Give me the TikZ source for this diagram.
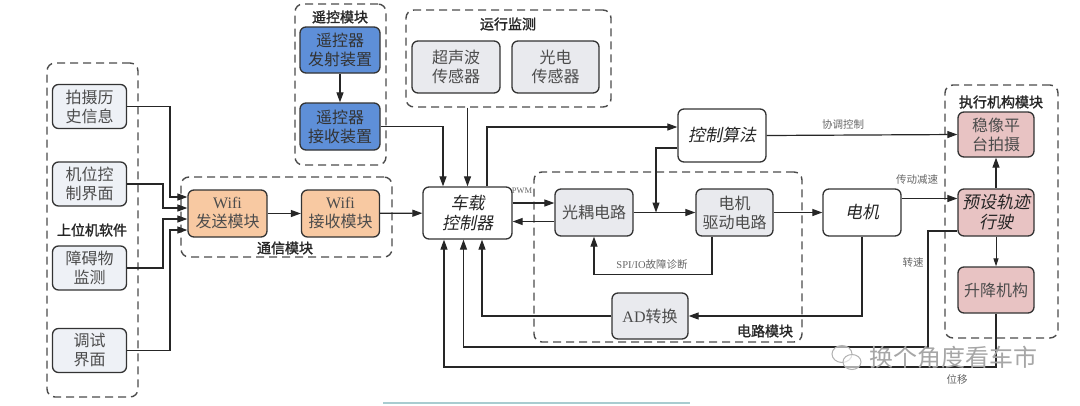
\documentclass[tikz,border=0pt]{standalone}
\usepackage{fontspec}
\setmainfont{Noto Sans CJK SC}
\newfontfamily\cjkit[FakeSlant=0.2]{Noto Sans CJK SC}
\newfontfamily\cjkbf[FakeBold=1.5]{Noto Sans CJK SC}
\newfontfamily\lat{Liberation Serif}
\usetikzlibrary{arrows.meta,calc}
\definecolor{cgray}{HTML}{E9EAEE}
\definecolor{cblue}{HTML}{EEF1F6}
\definecolor{corange}{HTML}{F8C9A2}
\definecolor{cdblue}{HTML}{5E8FD8}
\definecolor{cpink}{HTML}{E8C3C3}
\definecolor{cline}{HTML}{A9CCD0}
\tikzset{
  box/.style={draw=black!80, line width=1.3pt, rounded corners=6pt, inner sep=0pt, align=center,
    font=\fontsize{16}{19}\selectfont, text=black!70},
  itbox/.style={box, fill=white, font=\cjkit\fontsize{17}{20}\selectfont, text=black!85},
  grp/.style={draw=black!70, line width=1.4pt, dash pattern=on 8pt off 5pt, rounded corners=8pt, inner sep=0pt},
  arr/.style={-{Triangle[length=10pt,width=7pt]}, line width=1.2pt, draw=black!85},
  lbl/.style={font=\fontsize{10.5}{12}\selectfont, text=black!60, inner sep=1pt},
  glbl/.style={font=\cjkbf\fontsize{14}{16}\selectfont, text=black!85, inner sep=1pt}
}
\begin{document}
\begin{tikzpicture}[x=1pt,y=-1pt]
\useasboundingbox (0,0) rectangle (1080,405);
\fill[white] (0,0) rectangle (1080,405);

% group frames
\node[grp, minimum width=91, minimum height=334] (gleft) at (92.5,230) {};
\node[grp, minimum width=211, minimum height=80] (gcomm) at (286.5,217) {};
\node[grp, minimum width=91, minimum height=161] (grc) at (340.5,84.5) {};
\node[grp, minimum width=205, minimum height=97] (gmon) at (508.5,58.5) {};
\node[grp, minimum width=268, minimum height=170] (gcir) at (668,257) {};
\node[grp, minimum width=113, minimum height=253] (gexe) at (1001.5,211.5) {};

\node[glbl] (lleft) at (92,230) {上位机软件};
\node[glbl] (lcomm) at (285,248) {通信模块};
\node[glbl] (lrc) at (340,17) {遥控模块};
\node[glbl] (lmon) at (508,24) {运行监测};
\node[glbl] (lcir) at (765,331) {电路模块};
\node[glbl] (lexe) at (1001,102) {执行机构模块};

% left nodes
\node[box, fill=cblue, minimum width=74, minimum height=44] (n1) at (89.5,106.5) {拍摄历\\史信息};
\node[box, fill=cblue, minimum width=74, minimum height=44] (n2) at (89.5,184) {机位控\\制界面};
\node[box, fill=cblue, minimum width=74, minimum height=44] (n3) at (89.5,268) {障碍物\\监测};
\node[box, fill=cblue, minimum width=74, minimum height=44] (n4) at (89.5,350.5) {调试\\界面};

% wifi
\node[box, fill=corange, minimum width=79, minimum height=47] (w1) at (227.5,213.5) {{\lat Wifi}\\发送模块};
\node[box, fill=corange, minimum width=78, minimum height=47] (w2) at (340.5,213.5) {{\lat Wifi}\\接收模块};

% remote
\node[box, fill=cdblue, minimum width=80, minimum height=46, text=black!80] (rc1) at (340,50) {遥控器\\发射装置};
\node[box, fill=cdblue, minimum width=80, minimum height=47, text=black!80] (rc2) at (340,126.5) {遥控器\\接收装置};

% sensors
\node[box, fill=cgray, minimum width=88, minimum height=52] (s1) at (456,67) {超声波\\传感器};
\node[box, fill=cgray, minimum width=87, minimum height=52] (s2) at (555.5,67) {光电\\传感器};

% controller etc
\node[itbox, minimum width=89, minimum height=52] (ctrl) at (467.5,213) {车载\\控制器};
\node[itbox, minimum width=88, minimum height=53] (algo) at (722,135.5) {控制算法};
\node[box, fill=cgray, minimum width=78, minimum height=47] (opto) at (594,212.5) {光耦电路};
\node[box, fill=cgray, minimum width=77, minimum height=47] (drv) at (734.5,212.5) {电机\\驱动电路};
\node[box, fill=cgray, minimum width=76, minimum height=46] (ad) at (650,316) {{\lat AD}转换};
\node[itbox, minimum width=78, minimum height=47] (motor) at (862,212.5) {电机};

% actuators
\node[box, fill=cpink, minimum width=76, minimum height=45] (stab) at (996,134.5) {稳像平\\台拍摄};
\node[itbox, fill=cpink, minimum width=76, minimum height=47] (pre) at (996,212.5) {预设轨迹\\行驶};
\node[box, fill=cpink, minimum width=76, minimum height=46] (lift) at (996,290) {升降机构};

% left connectors
\draw[arr] (n1.east) -- (170,106.5) |- ($(w1.west)+(0,-16.5)$);
\draw[arr] (n2.east) -- (163,184) |- ($(w1.west)+(0,-5.5)$);
\draw[arr] (n3.east) -- (163,268) |- ($(w1.west)+(0,5.5)$);
\draw[arr] (n4.east) -- (170,350.5) |- ($(w1.west)+(0,16.5)$);
\draw[arr] (w1) -- (w2);
\draw[arr] (w2) -- (ctrl);

\draw[arr] (rc1) -- (rc2);
\draw[arr] (rc2.east) -| ($(ctrl.north)+(-24.5,0)$);
\draw[arr] (gmon.south -| ctrl.north) -- (ctrl.north);
\draw[arr] ($(ctrl.north)+(19.5,0)$) |- ($(algo.west)+(0,-8.5)$);
\draw[arr] (algo.east) -- (stab.west);
\node[lbl] (l1) at (843,125) {协调控制};

\draw[arr] ($(ctrl.east)+(0,-10)$) -- ($(opto.west)+(0,-9.5)$);
\draw[arr] ($(opto.west)+(0,9)$) -- ($(ctrl.east)+(0,8.5)$);
\node[lbl, font=\lat\fontsize{8.5}{10}\selectfont] (lpwm) at (522,191) {PWM};

\draw[arr] (opto) -- (drv);
\coordinate (j) at (656,212.5);
\draw[arr] ($(algo.west)+(0,12.5)$) -| (j);
\draw[arr] ($(drv.south)+(-22.5,0)$) -- ++(0,38) -| (opto.south);
\node[lbl] (lspi) at (652,265) {{\lat SPI/IO}故障诊断};

\draw[arr] (drv) -- (motor);
\draw[arr] ($(motor.east)+(0,-14)$) -- ($(pre.west)+(0,-14)$);
\node[lbl] (l2) at (917,180) {传动减速};
\draw[arr] (pre) -- (stab);
\draw[-{Triangle[length=8pt,width=5pt]}, line width=1pt, draw=black!85] (pre) -- (lift);

\draw[arr] (motor.south) |- (ad.east);
\draw[arr] (ad.west) -| ($(ctrl.south)+(14.5,0)$);
\draw[arr] ($(pre.west)+(0,18.5)$) -- (928,231) -- (928,347) -| ($(ctrl.south)+(-4,0)$);
\node[lbl] (l3) at (913,263) {转速};
\draw[arr] (lift.south) |- (444,367) -- ($(ctrl.south)+(-23.5,0)$);
\node[lbl] (l4) at (957,379) {位移};

% watermark and bottom strip
\draw[cline, line width=1.8pt] (383,403) -- (690,403);
\node[text=black!35, font=\fontsize{24}{26}\selectfont, inner sep=0pt] (wm) at (953,357) {换个角度看车市};
\draw[black!30, line width=1pt, fill=white, fill opacity=0.6] (842,354) ellipse (10pt and 8.5pt);
\draw[black!30, line width=1pt, fill=white, fill opacity=0.6] (852,362) ellipse (9pt and 7.5pt);
\end{tikzpicture}
\end{document}
